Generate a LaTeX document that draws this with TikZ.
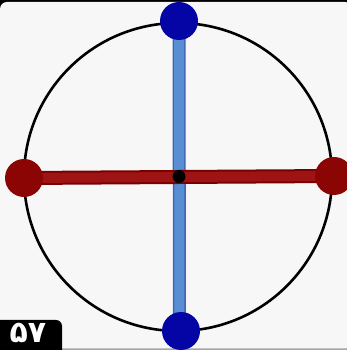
\documentclass[tikz,border=0pt]{standalone}
\usepackage{fontspec}
\newfontfamily\arabicfont[Script=Arabic]{DejaVu Sans}
\definecolor{cardbg}{HTML}{F7F7F7}
\definecolor{dotblue}{HTML}{0505A5}
\definecolor{barblue}{HTML}{5A8ED4}
\definecolor{barblueedge}{HTML}{3C68B0}
\definecolor{dotred}{HTML}{8B0505}
\definecolor{barred}{HTML}{9E1414}
\definecolor{barrededge}{HTML}{7A0000}
\tikzset{
  bluedot/.style={circle,fill=dotblue,minimum size=38pt,inner sep=0pt},
  reddot/.style={circle,fill=dotred,minimum size=38pt,inner sep=0pt},
  centerdot/.style={circle,fill=black,minimum size=13pt,inner sep=0pt},
  bluebaredge/.style={line width=13pt,draw=barblueedge},
  bluebarfill/.style={line width=10pt,draw=barblue},
  redbaredge/.style={line width=14pt,draw=barrededge},
  redbarfill/.style={line width=10pt,draw=barred},
}
\begin{document}
\begin{tikzpicture}[x=1pt,y=1pt]
\useasboundingbox (0,0) rectangle (347,350);
\fill[black] (0,0) rectangle (347,350);
\fill[gray!70] (0,0) rectangle (347,3);
\fill[cardbg,rounded corners=7pt] (0,1.5) rectangle (352,348);
% circle
\draw[line width=2.6pt] (178,173) circle (154);
% coordinates
\coordinate (T) at (179,329);
\coordinate (B) at (179.5,19);
\coordinate (L) at (24,172);
\coordinate (R) at (334,174);
\coordinate (C) at (179,173.5);
% bars
\draw[bluebaredge] (T) -- (B);
\draw[bluebarfill] (T) -- (B);
\draw[redbaredge] (L) -- (R);
\draw[redbarfill] (L) -- (R);
% dots
\node[bluedot] (top) at (T) {};
\node[bluedot] (bottom) at (181,19) {};
\node[reddot] (left) at (L) {};
\node[reddot] (right) at (R) {};
\node[centerdot] (center) at (C) {};
% label
\fill[black,rounded corners=6pt] (-10,-10) rectangle (62,30);
\fill[black] (-10,-10) rectangle (62,10);
\node[text=white,font=\arabicfont\bfseries\fontsize{30}{30}\selectfont,anchor=center,inner sep=0pt] (num) at (28,17) {۵۷};
\end{tikzpicture}
\end{document}
